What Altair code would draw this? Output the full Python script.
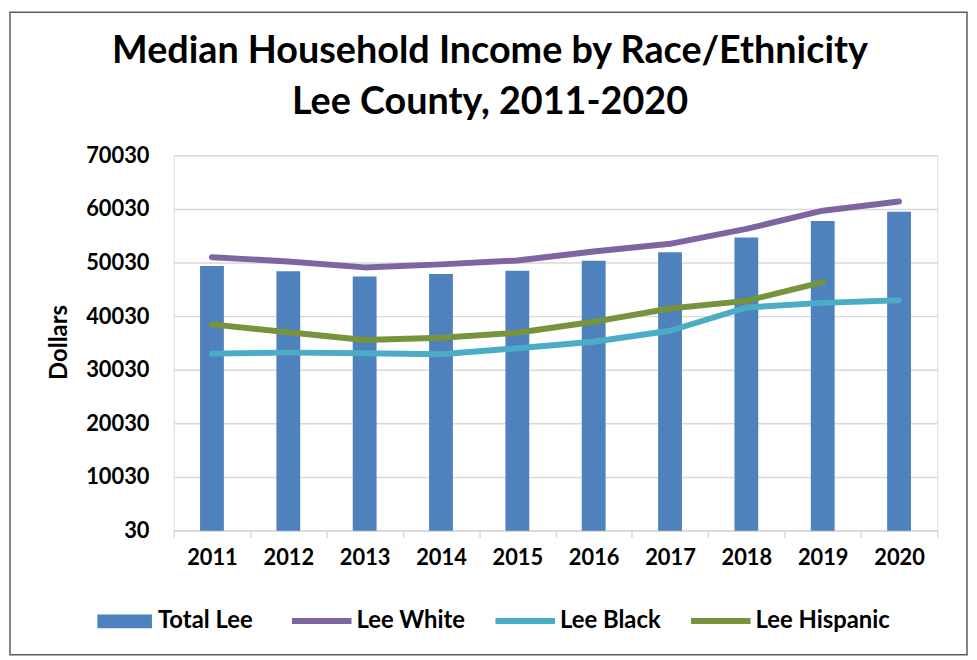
import altair as alt
import pandas as pd

years = ["2011", "2012", "2013", "2014", "2015", "2016", "2017", "2018", "2019", "2020"]
total_lee = [49360, 48380, 47400, 47880, 48510, 50360, 51960, 54690, 57790, 59510]
lee_white = [51030, 50230, 49120, 49680, 50420, 52090, 53520, 56300, 59700, 61420]
lee_black = [33040, 33220, 33110, 32920, 34040, 35260, 37300, 41640, 42500, 43000]
lee_hispanic = [38490, 37010, 35580, 36000, 36930, 38970, 41460, 42870, 46390, None]
y_ticks = [30, 10030, 20030, 30030, 40030, 50030, 60030, 70030]

series_names = ["Lee White", "Lee Black", "Lee Hispanic"]
series_colors = ["#8064a2", "#4bacc6", "#77933c"]
bar_color = "#4f81bd"
FONT = "Lato"

bars_df = pd.DataFrame({"year": years, "value": total_lee, "series": "Total Lee"})
rows = []
for name, vals in zip(series_names, [lee_white, lee_black, lee_hispanic]):
    for y, v in zip(years, vals):
        if v is not None:
            rows.append({"year": y, "series": name, "value": v})
lines_df = pd.DataFrame(rows)

x_enc = alt.X(
    "year:N",
    sort=years,
    scale=alt.Scale(padding=0),
    axis=alt.Axis(
        title=None, labelAngle=0, domainColor="#d9d9d9", domainWidth=1.5,
        tickColor="#d9d9d9", tickWidth=1.5, tickSize=7, tickBand="extent",
        labelFont=FONT, labelFontWeight="bold", labelFontSize=22, labelColor="#000000",
        labelPadding=10, grid=False,
    ),
)
y_enc_axis = alt.Axis(
    values=y_ticks, format="d", grid=True, gridColor="#d9d9d9", gridWidth=1.5,
    domain=False, ticks=False, tickSize=0, labelFont=FONT, labelFontWeight="bold",
    labelFontSize=22, labelColor="#000000", labelPadding=25,
    title="Dollars", titleFont=FONT, titleFontWeight="bold", titleFontSize=24,
    titleColor="#000000", titleX=-115, titleY=188, titleAngle=270,
    titleAlign="center", titleBaseline="middle",
)
y_scale = alt.Scale(domain=[30, 70030], nice=False, zero=False)

bars = alt.Chart(bars_df).mark_bar(size=24, color=bar_color).encode(
    x=x_enc,
    y=alt.Y("value:Q", scale=y_scale, axis=y_enc_axis),
    fill=alt.Fill(
        "series:N",
        scale=alt.Scale(domain=["Total Lee"], range=[bar_color]),
        legend=alt.Legend(
            orient="none", legendX=-77, legendY=442, title=None,
            symbolType="M-1,-0.255H1V0.255H-1Z", symbolSize=3025,
            symbolStrokeWidth=0, symbolOpacity=1,
            labelFont=FONT, labelFontWeight="bold", labelFontSize=24,
            labelColor="#000000", labelOffset=6,
        ),
    ),
)

lines = alt.Chart(lines_df).mark_line(strokeWidth=6, strokeCap="round", strokeJoin="round").encode(
    x=alt.X("year:N", sort=years),
    y=alt.Y("value:Q", scale=y_scale),
    stroke=alt.Stroke(
        "series:N",
        sort=series_names,
        scale=alt.Scale(domain=series_names, range=series_colors),
        legend=alt.Legend(
            orient="none", legendX=116, legendY=436, title=None, direction="horizontal",
            symbolType="stroke", symbolSize=3600, symbolStrokeWidth=6,
            columnPadding=18, labelOffset=2,
            labelFont=FONT, labelFontWeight="bold", labelFontSize=24,
            labelColor="#000000",
        ),
    ),
)

frame = alt.Chart(pd.DataFrame({"a": [0]})).mark_rect(
    fillOpacity=0, stroke="#5a5a5a", strokeWidth=1.5
).encode(
    x=alt.value(-165), x2=alt.value(799), y=alt.value(-144), y2=alt.value(503)
)

chart = alt.layer(frame, bars, lines).resolve_scale(fill="independent", stroke="independent").properties(
    width=769,
    height=378,
    padding={"left": 167, "top": 146, "right": 32, "bottom": 128},
    autosize=alt.AutoSizeParams(type="none"),
    title=alt.TitleParams(
        text=["Median Household Income by Race/Ethnicity", "Lee County, 2011-2020"],
        font=FONT, fontWeight="bold", fontSize=38, color="#000000",
        anchor="middle", dx=-66, dy=131, lineHeight=51, offset=20,
    ),
).configure_view(stroke=None).configure(background="white")

chart.save("out.html", embed_options={"renderer": "svg", "actions": False})
